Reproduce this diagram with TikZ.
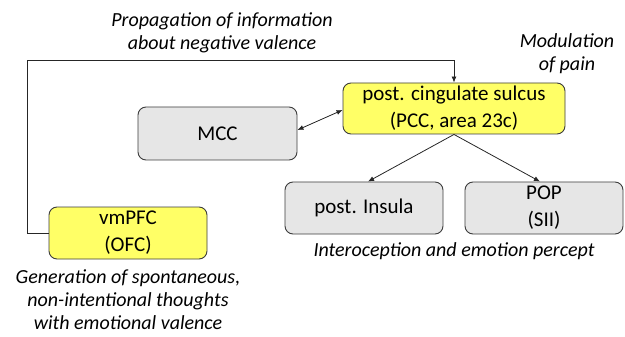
\documentclass[tikz,border=0pt]{standalone}
\usepackage{fontspec}
\setmainfont{Carlito}
\usetikzlibrary{arrows.meta,calc,positioning}
\definecolor{pccyellow}{HTML}{FFFF66}
\definecolor{boxgray}{HTML}{E6E6E6}
\definecolor{boxedge}{HTML}{3C3C3C}

\begin{document}
\begin{tikzpicture}[
    x=1pt, y=-1pt,
    box/.style={rounded corners=8pt, draw=boxedge, line width=0.9pt, fill=boxgray,
                inner sep=0pt, align=center, font=\fontsize{21}{27}\selectfont},
    hlbox/.style={box, fill=pccyellow},
    note/.style={align=center, inner sep=0pt, font=\fontsize{20}{23}\selectfont\itshape},
    arrow/.style={-{Latex[length=6pt,width=5pt]}, line width=0.8pt, color=black!85}
  ]
    \useasboundingbox (0,0) rectangle (625,337);
    \node[hlbox, minimum width=222pt, minimum height=51pt] (pcc)    at (454,108.5) {post. cingulate sulcus\\(PCC, area 23c)};
    \node[box,   minimum width=159pt, minimum height=53pt] (mcc)    at (217.5,133.5) {MCC};
    \node[box,   minimum width=158pt, minimum height=52pt] (insula) at (364,208)   {post. Insula};
    \node[box,   minimum width=158pt, minimum height=52pt] (pop)    at (544,208)   {POP\\(SII)};
    \node[hlbox, minimum width=158pt, minimum height=52pt] (vmpfc)  at (128,233)   {vmPFC\\(OFC)};
    \node[note] (propag) at (222,33)  {Propagation of information\\about negative valence};
    \node[note] (modul)  at (567,54)  {Modulation\\of pain};
    \node[note, below=8pt of $(insula.south)!0.5!(pop.south)$] (intero) {Interoception and emotion percept};
    \node[note, below=10pt of vmpfc] (gener) {Generation of spontaneous,\\non-intentional thoughts\\with emotional valence};
    \coordinate (loopbl) at (27,0 |- vmpfc.west);
    \coordinate (looptl) at (27,60);
    \draw[arrow] (vmpfc.west) -- (loopbl) -- (looptl) -- (looptl -| pcc.north) -- (pcc.north);
    \draw[arrow, {Latex[length=6pt,width=5pt]}-{Latex[length=6pt,width=5pt]}] (mcc.east |- 0,130) -- (pcc.west |- 0,110);
    \draw[arrow] (pcc.south) -- (368,0 |- insula.north);
    \draw[arrow] (pcc.south) -- (540,0 |- pop.north);
  \end{tikzpicture}
\end{document}
